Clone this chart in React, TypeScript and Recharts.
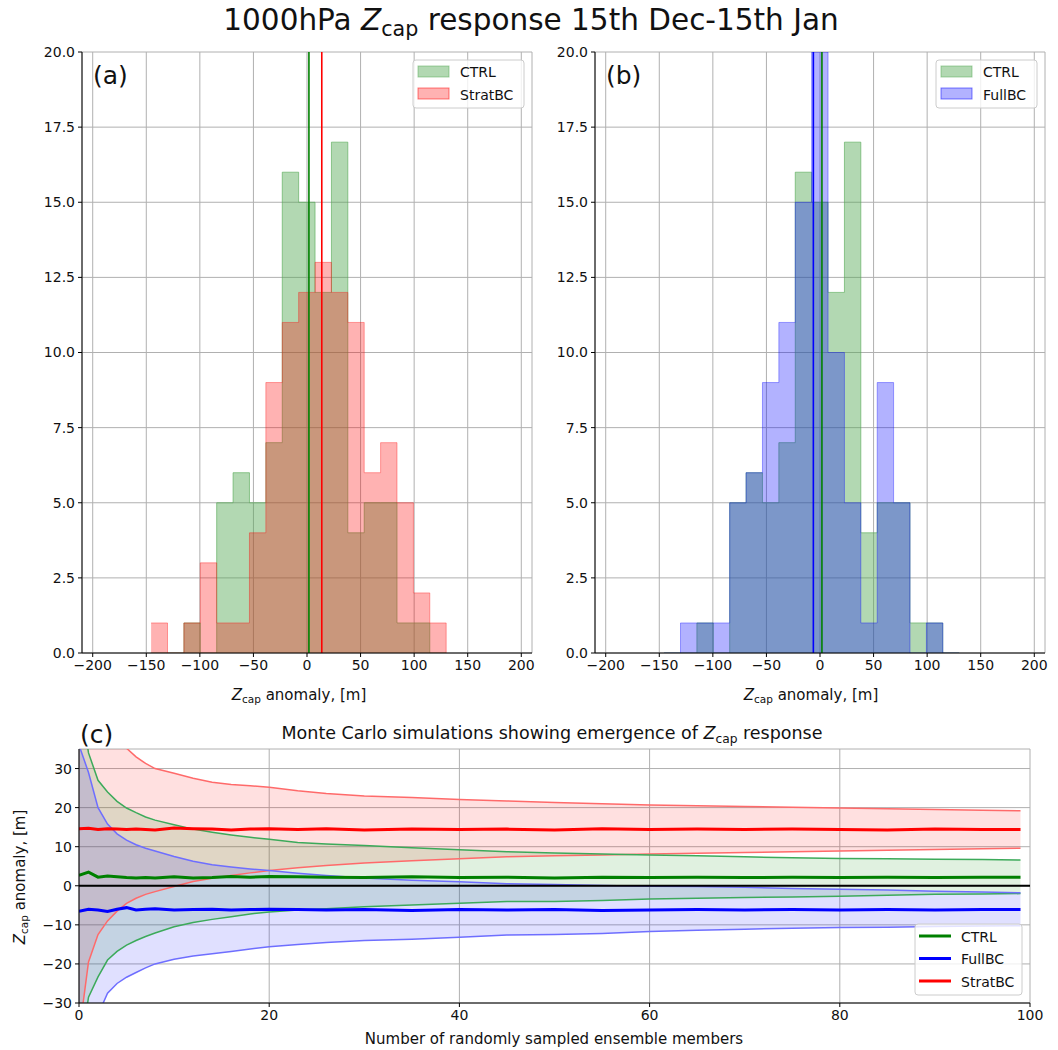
import React from 'react';
import { ComposedChart, Area, Line, XAxis, YAxis, CartesianGrid, ReferenceLine } from 'recharts';

const FONT = '"DejaVu Sans", Verdana, sans-serif';

// histogram bin edges (last value is the right edge of the last bin)
const BIN_EDGES = [-145.5, -130.2, -114.9, -99.6, -84.3, -69.0, -53.7, -38.4, -23.1, -7.8, 7.5, 22.8, 38.1, 53.4, 68.7, 84.0, 99.3, 114.6, 129.9];
const CTRL_COUNTS = [0, 0, 1, 0, 5, 6, 5, 7, 16, 15, 12, 17, 4, 5, 5, 1, 1, 0];
const STRATBC_COUNTS = [1, 0, 1, 3, 1, 1, 4, 9, 11, 12, 13, 12, 11, 6, 7, 5, 2, 1];
const FULLBC_COUNTS = [0, 1, 1, 1, 5, 6, 9, 11, 15, 20, 10, 5, 1, 9, 5, 0, 1, 0];
const CTRL_MEAN = 1.8;
const STRATBC_MEAN = 13.8;
const FULLBC_MEAN = -6.2;
const HIST_X_TICKS = [-200, -150, -100, -50, 0, 50, 100, 150, 200];
const HIST_Y_TICKS = [0, 2.5, 5, 7.5, 10, 12.5, 15, 17.5, 20];

// Monte Carlo panel: number of sampled members and the mean / spread curves
const MC_X = [0, 1, 2, 3, 4, 5, 6, 7, 8, 10, 12, 14, 16, 18, 20, 23, 26, 30, 35, 40, 45, 50, 55, 60, 65, 70, 75, 80, 85, 90, 95, 99];
const CTRL_MC_MEAN = [2.7, 3.5, 2.2, 2.5, 2.3, 2.1, 2.0, 2.1, 2.0, 2.3, 2.0, 2.1, 2.4, 2.2, 2.4, 2.3, 2.2, 2.1, 2.3, 2.1, 2.2, 2.0, 2.2, 2.1, 2.2, 2.1, 2.2, 2.1, 2.2, 2.1, 2.2, 2.2];
const CTRL_MC_HI = [50, 34, 27, 24, 21.6, 19.9, 18.7, 17.6, 16.8, 15.6, 14.5, 13.7, 13.0, 12.4, 11.9, 11.1, 10.7, 10.3, 9.7, 9.2, 8.7, 8.4, 8.1, 7.9, 7.7, 7.4, 7.2, 7.0, 6.9, 6.8, 6.7, 6.6];
const CTRL_MC_LO = [-45, -28.5, -23.3, -19, -16.8, -15.2, -14, -13, -12.1, -10.5, -9.4, -8.6, -7.9, -7.2, -6.7, -6.2, -5.9, -5.4, -4.9, -4.5, -4.0, -4.0, -3.8, -3.4, -3.2, -3.0, -2.9, -2.7, -2.4, -2.2, -2.1, -2.0];
const FULLBC_MC_MEAN = [-6.5, -6.0, -6.2, -6.6, -6.0, -5.6, -6.2, -6.0, -5.9, -6.2, -6.1, -6.0, -6.2, -6.1, -6.0, -6.1, -6.2, -6.1, -6.3, -6.1, -6.2, -6.1, -6.3, -6.2, -6.1, -6.2, -6.1, -6.2, -6.1, -6.2, -6.1, -6.1];
const FULLBC_MC_HI = [36, 29, 20, 15.8, 13.3, 11.7, 10.5, 9.6, 8.9, 7.5, 6.3, 5.4, 4.8, 4.3, 3.9, 3.2, 2.6, 2.0, 1.4, 1.0, 0.5, 0.3, 0.1, -0.1, -0.2, -0.4, -0.7, -0.9, -1.1, -1.4, -1.6, -1.8];
const FULLBC_MC_LO = [-62, -45, -33, -27.5, -25, -23.4, -22.2, -21, -20, -18.8, -18, -17.4, -16.8, -16.2, -15.6, -15, -14.5, -14, -13.7, -13.2, -12.6, -12.5, -12.2, -11.7, -11.4, -11.1, -10.9, -10.7, -10.6, -10.4, -10.3, -10.2];
const STRATBC_MC_MEAN = [14.6, 14.7, 14.4, 14.6, 14.5, 14.4, 14.5, 14.4, 14.3, 14.8, 14.6, 14.5, 14.3, 14.5, 14.6, 14.4, 14.6, 14.3, 14.5, 14.4, 14.5, 14.3, 14.6, 14.4, 14.5, 14.4, 14.5, 14.4, 14.3, 14.5, 14.4, 14.4];
const STRATBC_MC_HI = [90, 60, 48, 42, 38, 35.2, 33, 31.3, 30, 28.8, 27.5, 26.5, 25.9, 25.6, 25.2, 24.3, 23.6, 23, 22.6, 22.1, 21.7, 21.3, 21.0, 20.7, 20.5, 20.3, 20.1, 19.9, 19.7, 19.5, 19.3, 19.2];
const STRATBC_MC_LO = [-38, -19.5, -12.5, -9, -6.5, -4.5, -3.2, -2.2, -1.5, -0.2, 1.1, 1.9, 2.6, 3.3, 3.9, 4.6, 5.2, 5.8, 6.4, 6.9, 7.4, 7.7, 7.9, 8.1, 8.3, 8.5, 8.7, 8.9, 9.1, 9.3, 9.5, 9.6];
const MC_X_TICKS = [0, 20, 40, 60, 80, 100];
const MC_Y_TICKS = [-30, -20, -10, 0, 10, 20, 30];

const CTRL_HIST = '#54a854';
const TICK = { fontSize: 14, fill: '#111' };
const AXIS_LINE = { stroke: '#000', strokeWidth: 1 };

const minus = (v: number) => (v < 0 ? `\u2212${Math.abs(v)}` : `${v}`);

function HistPanel({ width, yAxisWidth, right, otherKey, otherCounts, otherColor, otherMean }: any) {
  const rows = BIN_EDGES.map((edge, i) => ({
    edge,
    CTRL: CTRL_COUNTS[i] ?? 0,
    [otherKey]: otherCounts[i] ?? 0,
  }));
  return (
    <ComposedChart width={width} height={670} data={rows} margin={{ top: 12, right, bottom: 0, left: 0 }}>
      <CartesianGrid stroke="#b0b0b0" />
      <XAxis
        dataKey="edge"
        type="number"
        domain={[-210, 210]}
        allowDataOverflow
        ticks={HIST_X_TICKS}
        interval={0}
        tickFormatter={minus}
        tick={TICK}
        tickSize={4}
        tickMargin={3}
        tickLine={AXIS_LINE}
        axisLine={AXIS_LINE}
        height={57}
      />
      <XAxis xAxisId="top" orientation="top" type="number" domain={[-210, 210]} allowDataOverflow height={0} tick={false} tickLine={false} axisLine={AXIS_LINE} />
      <YAxis
        type="number"
        domain={[0, 20]}
        allowDataOverflow
        ticks={HIST_Y_TICKS}
        interval={0}
        tickFormatter={(v: number) => v.toFixed(1)}
        width={yAxisWidth}
        tick={TICK}
        tickSize={4}
        tickMargin={3}
        tickLine={AXIS_LINE}
        axisLine={AXIS_LINE}
      />
      <YAxis yAxisId="right" orientation="right" type="number" domain={[0, 20]} allowDataOverflow width={0} tick={false} tickLine={false} axisLine={AXIS_LINE} />
      <Area type="stepAfter" dataKey="CTRL" stroke={CTRL_HIST} strokeOpacity={0.6} fill={CTRL_HIST} fillOpacity={0.45} isAnimationActive={false} dot={false} activeDot={false} />
      <Area type="stepAfter" dataKey={otherKey} stroke={otherColor} strokeOpacity={0.35} fill={otherColor} fillOpacity={0.3} isAnimationActive={false} dot={false} activeDot={false} />
      <ReferenceLine x={CTRL_MEAN} stroke="#008000" strokeWidth={1.6} />
      <ReferenceLine x={otherMean} stroke={otherColor} strokeWidth={1.6} />
    </ComposedChart>
  );
}

function MonteCarloPanel() {
  const rows = MC_X.map((n, i) => ({
    n,
    ctrlMean: CTRL_MC_MEAN[i],
    ctrlHi: CTRL_MC_HI[i],
    ctrlLo: CTRL_MC_LO[i],
    fullMean: FULLBC_MC_MEAN[i],
    fullHi: FULLBC_MC_HI[i],
    fullLo: FULLBC_MC_LO[i],
    stratMean: STRATBC_MC_MEAN[i],
    stratHi: STRATBC_MC_HI[i],
    stratLo: STRATBC_MC_LO[i],
  }));
  const thin = { type: 'linear' as const, dot: false, activeDot: false, isAnimationActive: false, strokeWidth: 1.5 };
  return (
    <ComposedChart width={1058} height={350} data={rows} margin={{ top: 49, right: 28, bottom: 0, left: 0 }}>
      <CartesianGrid stroke="#b0b0b0" />
      <XAxis
        dataKey="n"
        type="number"
        domain={[0, 100]}
        allowDataOverflow
        ticks={MC_X_TICKS}
        interval={0}
        tick={TICK}
        tickSize={4}
        tickMargin={3}
        tickLine={AXIS_LINE}
        axisLine={AXIS_LINE}
        height={47}
      />
      <XAxis xAxisId="top" orientation="top" type="number" domain={[0, 100]} allowDataOverflow height={0} tick={false} tickLine={false} axisLine={AXIS_LINE} />
      <YAxis
        type="number"
        domain={[-30, 35]}
        allowDataOverflow
        ticks={MC_Y_TICKS}
        interval={0}
        tickFormatter={minus}
        width={79}
        tick={TICK}
        tickSize={4}
        tickMargin={3}
        tickLine={AXIS_LINE}
        axisLine={AXIS_LINE}
      />
      <YAxis yAxisId="right" orientation="right" type="number" domain={[-30, 35]} allowDataOverflow width={0} tick={false} tickLine={false} axisLine={AXIS_LINE} />
      <Area type="linear" dataKey={(d: any) => [d.stratLo, d.stratHi]} stroke="none" fill="#ff0000" fillOpacity={0.12} isAnimationActive={false} dot={false} activeDot={false} />
      <Area type="linear" dataKey={(d: any) => [d.ctrlLo, d.ctrlHi]} stroke="none" fill="#2ca02c" fillOpacity={0.15} isAnimationActive={false} dot={false} activeDot={false} />
      <Area type="linear" dataKey={(d: any) => [d.fullLo, d.fullHi]} stroke="none" fill="#0000ff" fillOpacity={0.12} isAnimationActive={false} dot={false} activeDot={false} />
      <Line dataKey="stratHi" stroke="#ff6a6a" {...thin} />
      <Line dataKey="stratLo" stroke="#ff6a6a" {...thin} />
      <Line dataKey="ctrlHi" stroke="#3caa5a" {...thin} />
      <Line dataKey="ctrlLo" stroke="#3caa5a" {...thin} />
      <Line dataKey="fullHi" stroke="#6e6eff" {...thin} />
      <Line dataKey="fullLo" stroke="#6e6eff" {...thin} />
      <Line dataKey="stratMean" stroke="#ff0000" {...thin} strokeWidth={3} />
      <Line dataKey="ctrlMean" stroke="#008000" {...thin} strokeWidth={3} />
      <Line dataKey="fullMean" stroke="#0000ff" {...thin} strokeWidth={3} />
      <ReferenceLine y={0} stroke="#000" strokeWidth={2} />
    </ComposedChart>
  );
}

function Zcap({ size, shift }: { size: number; shift: number }) {
  return (
    <>
      <tspan fontStyle="italic">Z</tspan>
      <tspan fontSize={size * 0.7} dy={shift}>cap</tspan>
    </>
  );
}

function HistLegend({ x, w, items }: { x: number; w: number; items: { name: string; color: string; opacity: number }[] }) {
  return (
    <g>
      <rect x={x} y={60} width={w} height={48} rx={3} fill="#fff" fillOpacity={0.8} stroke="#cccccc" />
      {items.map((it, i) => (
        <g key={it.name}>
          <rect x={x + 5} y={66 + i * 22} width={31} height={11} fill={it.color} fillOpacity={it.opacity} stroke={it.color} strokeOpacity={0.5} />
          <text x={x + 47} y={77 + i * 22.5} fontSize={14} fill="#111">{it.name}</text>
        </g>
      ))}
    </g>
  );
}

const MC_LEGEND = [
  { name: 'CTRL', color: '#008000' },
  { name: 'FullBC', color: '#0000ff' },
  { name: 'StratBC', color: '#ff0000' },
];

function Overlay() {
  return (
    <svg width={1058} height={1050} style={{ position: 'absolute', left: 0, top: 0, pointerEvents: 'none' }} fontFamily={FONT}>
      <text x={531} y={30} fontSize={29.5} textAnchor="middle" fill="#111">
        1000hPa <Zcap size={29.5} shift={6} />
        <tspan dy={-6}> response 15th Dec-15th Jan</tspan>
      </text>

      <text x={93} y={84} fontSize={25} fill="#111">(a)</text>
      <text x={606} y={84} fontSize={25} fill="#111">(b)</text>
      <text x={80} y={743} fontSize={25} fill="#111">(c)</text>

      <text x={299} y={700} fontSize={15} textAnchor="middle" fill="#111">
        <Zcap size={15} shift={3} />
        <tspan dy={-3}> anomaly, [m]</tspan>
      </text>
      <text x={811} y={700} fontSize={15} textAnchor="middle" fill="#111">
        <Zcap size={15} shift={3} />
        <tspan dy={-3}> anomaly, [m]</tspan>
      </text>

      <text x={552} y={739} fontSize={17.5} textAnchor="middle" fill="#111">
        Monte Carlo simulations showing emergence of <Zcap size={17.5} shift={3.5} />
        <tspan dy={-3.5}> response</tspan>
      </text>
      <text x={554} y={1044} fontSize={15} textAnchor="middle" fill="#111">Number of randomly sampled ensemble members</text>
      <text transform="translate(25, 877) rotate(-90)" fontSize={15} textAnchor="middle" fill="#111">
        <Zcap size={15} shift={3} />
        <tspan dy={-3}> anomaly, [m]</tspan>
      </text>

      <HistLegend
        x={413}
        w={111}
        items={[
          { name: 'CTRL', color: CTRL_HIST, opacity: 0.45 },
          { name: 'StratBC', color: '#ff0000', opacity: 0.3 },
        ]}
      />
      <HistLegend
        x={936}
        w={101}
        items={[
          { name: 'CTRL', color: CTRL_HIST, opacity: 0.45 },
          { name: 'FullBC', color: '#0000ff', opacity: 0.3 },
        ]}
      />

      <rect x={915} y={924} width={107} height={71} rx={3} fill="#fff" fillOpacity={0.8} stroke="#cccccc" />
      {MC_LEGEND.map((it, i) => (
        <g key={it.name}>
          <line x1={919} x2={951} y1={936 + i * 22.5} y2={936 + i * 22.5} stroke={it.color} strokeWidth={3} />
          <text x={961} y={941.5 + i * 22.5} fontSize={14} fill="#111">{it.name}</text>
        </g>
      ))}
    </svg>
  );
}

export default function App() {
  return (
    <div style={{ position: 'absolute', left: 0, top: 0, width: 1058, height: 1050, background: '#fff', fontFamily: FONT }}>
      <div style={{ position: 'absolute', left: 0, top: 40 }}>
        <HistPanel width={540} yAxisWidth={82} right={8} otherKey="StratBC" otherCounts={STRATBC_COUNTS} otherColor="#ff0000" otherMean={STRATBC_MEAN} />
      </div>
      <div style={{ position: 'absolute', left: 540, top: 40 }}>
        <HistPanel width={518} yAxisWidth={55} right={13} otherKey="FullBC" otherCounts={FULLBC_COUNTS} otherColor="#0000ff" otherMean={FULLBC_MEAN} />
      </div>
      <div style={{ position: 'absolute', left: 0, top: 700 }}>
        <MonteCarloPanel />
      </div>
      <Overlay />
    </div>
  );
}
